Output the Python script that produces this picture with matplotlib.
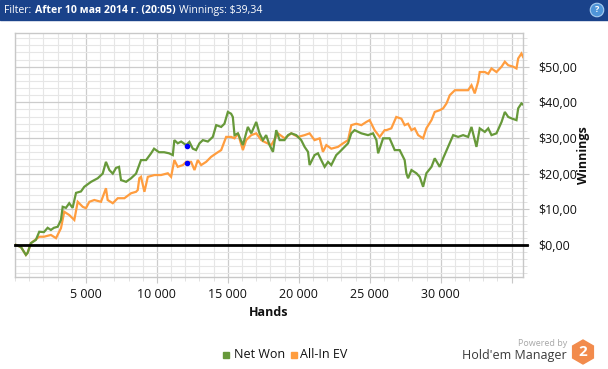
import matplotlib
matplotlib.use('Agg')
import matplotlib.pyplot as plt
from matplotlib.patches import Rectangle, RegularPolygon
from matplotlib.ticker import MultipleLocator, FuncFormatter

plt.rcParams['font.family'] = ['Open Sans', 'DejaVu Sans']

# ---------------- data ----------------
net_hands = [60, 420, 770, 890, 1120, 1470, 1710, 2040, 2300, 2530, 2740, 3010, 3240, 3360,
             3590, 3820, 4060, 4300, 4650, 4880, 5360, 5830, 6180, 6410, 6650, 6890, 7120,
             7330, 7470, 7830, 8180, 8530, 8880, 9240, 9590, 9800, 10150, 10510, 10860,
             11120, 11230, 11470, 11710, 12060, 12290, 12530, 12760, 13000, 13240, 13590,
             13940, 14180, 14530, 14760, 15000, 15230, 15350, 15470, 15710, 16060, 16410,
             16650, 17000, 17230, 17470, 17700, 17940, 18180, 18410, 18650, 18990, 19240,
             19470, 19820, 20170, 20410, 20650, 20760, 21110, 21350, 21580, 21820, 22060,
             22290, 22640, 22880, 23230, 23470, 23700, 23930, 24410, 24880, 25230, 25470,
             25590, 25940, 26400, 26760, 27110, 27460, 27580, 27700, 27940, 28290, 28520,
             28760, 28990, 29350, 29580, 29930, 30170, 30520, 30880, 31230, 31580, 31930,
             32170, 32520, 32750, 33110, 33350, 33580, 33930, 34290, 34520, 34760, 34990,
             35340, 35460, 35690, 35810]
net_won = [0, -0.6, -2.8, -2.2, 0.5, 1.4, 3.7, 3.6, 4.8, 4.2, 4.8, 5.1, 7.0, 10.7,
           10.4, 11.7, 10.4, 14.6, 15.0, 16.3, 17.7, 18.7, 20.0, 23.3, 21.0, 20.0, 21.6,
           21.9, 18.2, 17.7, 18.7, 20.0, 23.8, 23.8, 25.7, 27.0, 26.0, 26.0, 25.7,
           25.2, 29.4, 28.5, 29.0, 28.0, 28.9, 27.0, 26.6, 28.5, 29.4, 29.0,
           30.3, 33.6, 33.1, 34.0, 37.3, 36.8, 35.9, 30.8, 31.3, 28.0, 33.1,
           31.3, 34.5, 31.3, 29.4, 30.8, 28.0, 26.1, 32.2, 29.4, 29.4, 30.8,
           31.3, 30.8, 29.4, 27.5, 26.1, 22.4, 25.2, 25.7, 23.8, 21.9, 23.3,
           22.4, 25.2, 26.1, 27.5, 28.5, 31.3, 32.2, 31.3, 30.8, 31.3, 29.4,
           25.7, 29.9, 29.9, 26.6, 26.6, 23.8, 20.1, 18.7, 21.0, 20.1, 19.1,
           16.3, 20.1, 21.9, 24.3, 21.9, 24.3, 27.5, 30.8, 30.3, 30.8, 30.3,
           33.1, 27.5, 32.7, 31.7, 32.7, 30.8, 31.3, 34.5, 37.3, 35.9, 35.5,
           35.0, 38.3, 39.7, 39.34]

ev_hands = [60, 420, 770, 890, 1120, 1710, 2040, 2530, 2890, 3240, 3470, 3820, 4180, 4420,
            4770, 5000, 5240, 5590, 6060, 6410, 6530, 6890, 7240, 7710, 8180, 8530, 8650,
            8760, 8880, 9120, 9360, 9820, 10290, 10770, 11000, 11230, 11470, 11830, 12060,
            12410, 12650, 12880, 13120, 13470, 13820, 14180, 14530, 14880, 15230, 15470,
            15710, 16060, 16290, 16650, 17000, 17360, 17580, 18060, 18530, 19000, 19470,
            19940, 20410, 20760, 21110, 21470, 21700, 21940, 22290, 22760, 23120, 23470,
            23700, 24050, 24410, 24760, 24990, 25340, 25700, 26050, 26170, 26520, 26870,
            27230, 27460, 27700, 27940, 28170, 28410, 28760, 28990, 29350, 29580, 29930,
            30170, 30410, 30640, 31000, 31470, 31930, 32170, 32400, 32640, 32750, 33110,
            33350, 33580, 33930, 34290, 34520, 34760, 35110, 35340, 35460, 35690, 35810]
ev_won = [0, -0.6, -2.8, -2.2, 0.5, 2.3, 2.3, 2.8, 1.9, 4.7, 9.3, 8.4, 7.0, 12.1,
          10.7, 10.3, 12.1, 12.6, 12.1, 15.9, 12.6, 11.7, 13.1, 13.1, 14.5, 14.9, 15.4,
          18.7, 19.1, 14.9, 19.1, 19.6, 19.6, 20.1, 19.1, 23.8, 21.9, 22.4, 23.3,
          23.3, 21.0, 23.8, 22.4, 23.3, 24.7, 25.7, 26.6, 30.3, 30.3, 29.9,
          31.3, 26.6, 29.4, 30.8, 31.3, 29.4, 28.9, 28.0, 31.3, 29.9, 31.3,
          30.3, 30.8, 31.3, 29.4, 29.9, 26.1, 28.0, 27.0, 27.5, 28.5, 29.4,
          33.6, 34.0, 33.6, 34.5, 35.0, 32.2, 30.3, 32.2, 32.2, 32.7, 35.9,
          35.4, 33.6, 34.0, 32.2, 32.7, 30.8, 29.9, 32.7, 35.0, 37.3, 37.8,
          38.3, 39.7, 42.0, 43.4, 43.4, 43.4, 44.8, 42.5, 45.8, 48.5, 48.5,
          48.0, 49.5, 48.5, 50.0, 51.4, 50.4, 50.0, 49.5, 52.3, 53.7, 52.7]

marker_hand = 12090
marker_values = [27.7, 23.0]

series_names = ['Net Won', 'All-In EV']
x_ticks = [5000, 10000, 15000, 20000, 25000, 30000, 35000]
header_filter = 'Filter:'
header_value = 'After 10 мая 2014 г. (20:05)'
header_win = 'Winnings: $39,34'

# ---------------- style ----------------
W, H = 608, 369
GREEN = '#67993a'
ORANGE = '#ff9d3f'

fig = plt.figure(figsize=(W / 100, H / 100), dpi=100)

# overlay axes in pixel units
ov = fig.add_axes([0, 0, 1, 1], zorder=0)
ov.set_xlim(0, W)
ov.set_ylim(H, 0)
ov.axis('off')
ov.patch.set_alpha(0)

ax = fig.add_axes([15 / W, 1 - 277 / H, (523 - 15) / W, (277 - 33) / H], zorder=1)
ax.set_facecolor('white')

ax.plot(ev_hands, ev_won, color=ORANGE, lw=1.6, solid_joinstyle='miter', zorder=3)
ax.plot(net_hands, net_won, color=GREEN, lw=1.6, solid_joinstyle='miter', zorder=4)
ax.scatter([marker_hand] * len(marker_values), marker_values, s=9, color='#0000ff', zorder=5)

ax.plot([0, 1.008], [0, 0], transform=ax.get_yaxis_transform(), color='black', lw=2,
        clip_on=False, zorder=6)

ax.set_xlim(0, 35800)
ax.set_ylim(-9, 59.45)

ax.xaxis.set_major_locator(plt.FixedLocator(x_ticks))
ax.xaxis.set_minor_locator(MultipleLocator(1000))
ax.xaxis.set_major_formatter(FuncFormatter(
    lambda v, p: '' if v >= 35000 else f"{int(v):,}".replace(',', ' ')))
ax.yaxis.set_major_locator(MultipleLocator(10))
ax.yaxis.set_minor_locator(MultipleLocator(2))
ax.yaxis.set_major_formatter(FuncFormatter(lambda v, p: f"${v:.2f}".replace('.', ',')))
ax.yaxis.tick_right()

ax.grid(which='major', color='#cccccc', lw=0.9, zorder=0)
ax.grid(which='minor', color='#e6e6e6', lw=0.8, zorder=0)
ax.set_axisbelow(True)
for s in ax.spines.values():
    s.set_color('#c8c8c8')
    s.set_linewidth(1)

ax.tick_params(axis='both', which='major', length=4, color='#c8c8c8', labelsize=9,
               labelcolor='#111111')
ax.tick_params(axis='both', which='minor', length=3, color='#dddddd')
ax.tick_params(axis='y', which='major', pad=7)
ax.tick_params(axis='x', which='major', pad=4)

# axis titles
ov.text(269, 313, 'Hands', ha='center', va='center', fontsize=9, fontweight='bold',
        color='#111111')
ov.text(583, 155, 'Winnings', ha='center', va='center', rotation=90, fontsize=9,
        fontweight='bold', color='#111111')

# header bar
ov.add_patch(Rectangle((0, 0), W, 20, color='#1a428a', zorder=1))
t1 = ov.text(4, 10.5, header_filter, color='white', fontsize=7.6, va='center', ha='left', zorder=2)
t2 = ov.annotate(header_value, xy=(1, 0), xycoords=t1, xytext=(2.5, 0),
                 textcoords='offset points', color='white', fontsize=7.6, fontweight='bold',
                 va='bottom', ha='left', zorder=2)
ov.annotate(header_win, xy=(1, 0), xycoords=t2, xytext=(2.5, 0),
            textcoords='offset points', color='white', fontsize=7.6,
            va='bottom', ha='left', zorder=2)
ov.text(597, 10, '?', color='white', fontsize=6.5, fontweight='bold', ha='center',
        va='center', zorder=3,
        bbox=dict(boxstyle='circle,pad=0.25', fc='#4f95d8', ec='#a8cdf0', lw=0.8))

# legend
ov.add_patch(Rectangle((223, 352), 5.5, 5.5, color=GREEN))
ov.text(234, 354.5, series_names[0], fontsize=9, va='center', ha='left', color='#111111')
ov.add_patch(Rectangle((291, 352), 5.5, 5.5, color=ORANGE))
ov.text(300, 354.5, series_names[1], fontsize=9, va='center', ha='left', color='#111111')

# branding
ov.text(567, 343, 'Powered by', fontsize=6.5, color='#a8a8a8', ha='right', va='center')
ov.text(567, 355, "Hold'em Manager", fontsize=9, color='#3a3a3a', ha='right', va='center')
ov.add_patch(RegularPolygon((583, 352), numVertices=6, radius=12, orientation=0,
                            color='#f28b4c'))
ov.text(583, 352.5, '2', fontsize=11, fontweight='bold', color='white', ha='center',
        va='center')

fig.savefig('out.png', dpi=100)
